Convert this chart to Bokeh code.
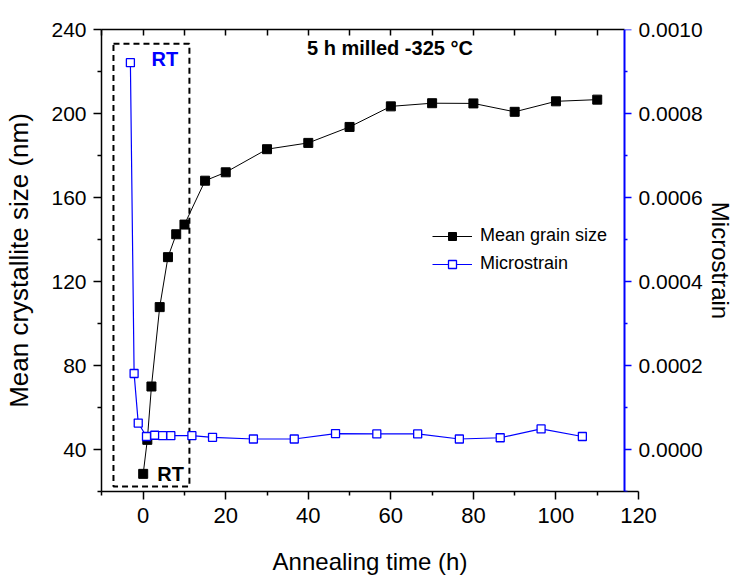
from bokeh.plotting import figure
from bokeh.models import (Range1d, LinearAxis, FixedTicker, PrintfTickFormatter,
                          Label, Legend, LegendItem)
from bokeh.embed import file_html
from bokeh.resources import INLINE

# ---------------- data ----------------
grain_time = [0, 1, 2, 4, 6, 8, 10, 15, 20, 30, 40, 50, 60, 70, 80, 90, 100, 110]
grain_size = [28.4, 44.6, 70.0, 107.8, 131.6, 142.5, 147.1, 168.0, 172.0, 183.0,
              186.0, 193.6, 203.4, 204.9, 204.8, 200.8, 205.8, 206.6]

strain_time = [-3.1, -2.2, -1.2, 0.8, 2.8, 4.7, 6.7, 11.8, 16.8, 26.7, 36.6,
               46.6, 56.6, 66.5, 76.6, 86.5, 96.4, 106.4]
strain = [9.21e-4, 1.81e-4, 6.3e-5, 3.1e-5, 3.4e-5, 3.3e-5, 3.3e-5, 3.3e-5,
          2.9e-5, 2.5e-5, 2.5e-5, 3.8e-5, 3.7e-5, 3.7e-5, 2.5e-5, 2.8e-5,
          4.9e-5, 3.1e-5]

x_major = [0, 20, 40, 60, 80, 100, 120]
x_minor = [-10, 10, 30, 50, 70, 90, 110]
x_top = [-10, 0, 10, 20, 30, 40, 50, 60, 70, 80, 90, 100, 110]
y_major = [40, 80, 120, 160, 200, 240]
y_minor = [20, 60, 100, 140, 180, 220]
r_major = [0.0, 0.0002, 0.0004, 0.0006, 0.0008, 0.0010]
r_minor = [-0.0001, 0.0001, 0.0003, 0.0005, 0.0007, 0.0009]

x_start, x_end = -10.1, 120.0      # bottom axis runs to 120
x_right_axis = 116.7               # where the right (strain) axis stands
y_start, y_end = 20, 240
r_start, r_end = -0.0001, 0.0010001

# dashed "RT" box (data coords)
box_left, box_right, box_bottom, box_top = -7.2, 11.2, 22.4, 233.2

FONT = "Liberation Sans"

p = figure(width=739, height=577, x_range=Range1d(x_start, x_end),
           y_range=Range1d(y_start, y_end), x_axis_type=None, y_axis_type=None,
           output_backend="svg", toolbar_location=None,
           min_border_left=101, min_border_right=101, min_border_top=29,
           min_border_bottom=86, outline_line_color=None,
           background_fill_color="white", border_fill_color="white")
p.extra_y_ranges = {"strain": Range1d(r_start, r_end)}

def style(ax, label_size="21px"):
    ax.axis_line_width = 1.5
    ax.major_tick_line_width = 1.5
    ax.minor_tick_line_width = 1.5
    ax.major_label_text_font = FONT
    ax.major_label_text_font_size = label_size
    ax.major_label_text_color = "black"
    ax.axis_label_text_font = FONT
    ax.axis_label_text_font_style = "normal"
    ax.axis_label_text_color = "black"

bottom = LinearAxis(ticker=FixedTicker(ticks=x_major, minor_ticks=x_minor),
                    axis_label="Annealing time (h)")
style(bottom, "22px")
bottom.axis_label_text_font_size = "24px"
bottom.major_tick_out = 8
bottom.major_tick_in = 0
bottom.minor_tick_out = 4
bottom.minor_tick_in = 0
bottom.major_label_standoff = 8
bottom.axis_label_standoff = 22
p.add_layout(bottom, "below")

left = LinearAxis(ticker=FixedTicker(ticks=y_major, minor_ticks=y_minor),
                  axis_label="Mean crystallite size (nm)")
style(left)
left.axis_label_text_font_size = "26px"
left.major_tick_out = 8
left.major_tick_in = 0
left.minor_tick_out = 4
left.minor_tick_in = 0
left.major_label_standoff = 7
left.axis_label_standoff = 14
p.add_layout(left, "left")

top = LinearAxis(ticker=FixedTicker(ticks=x_top, minor_ticks=[]),
                 bounds=(x_start, x_right_axis))
style(top)
top.major_tick_in = 6
top.major_tick_out = 0
top.major_label_text_font_size = "0px"
top.major_label_text_alpha = 0
p.add_layout(top, "above")

# strain axis rule + ticks, standing at x_right_axis inside the frame;
# ticks drawn "in" (towards the right) so that they point outwards
right_rule = LinearAxis(y_range_name="strain",
                        ticker=FixedTicker(ticks=r_major, minor_ticks=r_minor),
                        fixed_location=x_right_axis)
style(right_rule)
right_rule.axis_line_color = "blue"
right_rule.axis_line_width = 2
right_rule.major_tick_line_color = "blue"
right_rule.minor_tick_line_color = "blue"
right_rule.major_tick_out = 0
right_rule.major_tick_in = 7
right_rule.minor_tick_out = 0
right_rule.minor_tick_in = 3
right_rule.major_label_standoff = 0
right_rule.major_label_text_font_size = "0px"
right_rule.major_label_text_alpha = 0
p.add_layout(right_rule, "left")

# strain axis tick labels and title (no rule of its own)
right = LinearAxis(y_range_name="strain",
                   ticker=FixedTicker(ticks=r_major, minor_ticks=[]),
                   axis_label="Microstrain",
                   formatter=PrintfTickFormatter(format="%.4f"))
style(right)
right.axis_line_color = None
right.major_tick_line_color = None
right.minor_tick_line_color = None
right.major_tick_out = 0
right.major_tick_in = 0
right.minor_tick_out = 0
right.minor_tick_in = 0
right.axis_label_text_font_size = "24px"
right.axis_label_text_line_height = 1.0
right.major_label_standoff = 0
right.axis_label_standoff = 1
p.add_layout(right, "right")

# dashed box
p.quad(left=[box_left], right=[box_right], bottom=[box_bottom], top=[box_top],
       fill_color=None, line_color="black", line_width=2, line_dash="6 4")

# series
l1 = p.line(grain_time, grain_size, line_color="black", line_width=1)
s1 = p.scatter(grain_time, grain_size, marker="square", size=9,
               fill_color="black", line_color="black")
l2 = p.line(strain_time, strain, y_range_name="strain", line_color="blue", line_width=1.2)
s2 = p.scatter(strain_time, strain, y_range_name="strain", marker="square", size=8,
               fill_color="white", line_color="blue", line_width=1.3)

# texts
p.add_layout(Label(x=39.7, y=231.4, text="5 h milled -325 °C", text_font=FONT,
                   text_font_style="bold", text_font_size="20px",
                   text_baseline="middle", text_color="black"))
p.add_layout(Label(x=2.0, y=226.0, text="RT", text_font=FONT,
                   text_font_style="bold", text_font_size="20px",
                   text_baseline="middle", text_color="blue"))
p.add_layout(Label(x=3.4, y=28.1, text="RT", text_font=FONT,
                   text_font_style="bold", text_font_size="20px",
                   text_baseline="middle", text_color="black"))

legend = Legend(items=[LegendItem(label="Mean grain size", renderers=[l1, s1]),
                       LegendItem(label="Microstrain", renderers=[l2, s2])],
                location=(331, 217), background_fill_alpha=0,
                border_line_color=None, padding=0, margin=0,
                glyph_width=40, glyph_height=20, spacing=7, label_standoff=8,
                label_text_font=FONT, label_text_font_size="18px",
                label_text_color="black")
p.add_layout(legend)

open("out.html", "w").write(file_html(p, INLINE))
